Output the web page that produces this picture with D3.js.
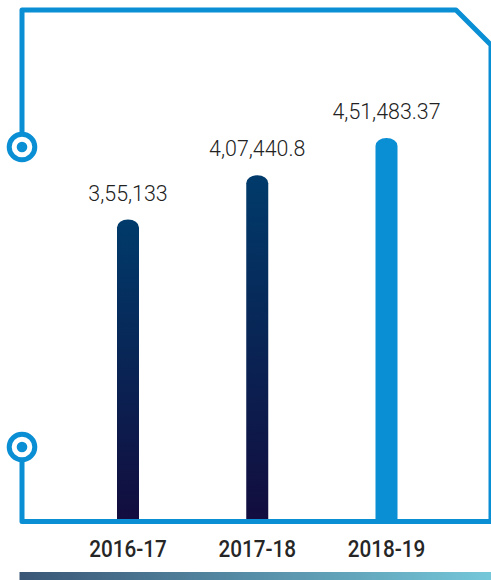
<!DOCTYPE html>
<html lang="en">
<head>
<meta charset="UTF-8">
<title>2016-17 to 2018-19</title>
<script src="https://cdnjs.cloudflare.com/ajax/libs/d3/7.8.5/d3.min.js"></script>
<style>
    html, body { margin: 0; padding: 0; background: #fff; }
    svg { display: block; }
    .value-label { font-family: Roboto, "Noto Sans", sans-serif; font-size: 23px; font-weight: 300; fill: #222; }
    .year-label { font-family: Roboto, "Noto Sans", sans-serif; font-size: 23px; font-weight: 500; fill: #262626; }
</style>
</head>
<body>
<div id="chart"></div>
<script>
    const years = ["2016-17", "2017-18", "2018-19"];
    const values = [355133, 407440.8, 451483.37];
    const valueLabels = ["3,55,133", "4,07,440.8", "4,51,483.37"];
    const highlight = [false, false, true];

    const W = 491, H = 580;
    const blue = "#0a8ed4";
    const baseY = 520;

    const svg = d3.select("#chart").append("svg")
        .attr("width", W)
        .attr("height", H);

    const defs = svg.append("defs");
    const barGrad = defs.append("linearGradient")
        .attr("id", "barGrad")
        .attr("x1", 0).attr("y1", 0).attr("x2", 0).attr("y2", 1);
    barGrad.append("stop").attr("offset", "0%").attr("stop-color", "#003b6b");
    barGrad.append("stop").attr("offset", "100%").attr("stop-color", "#120d3e");

    const footGrad = defs.append("linearGradient")
        .attr("id", "footGrad")
        .attr("x1", 0).attr("y1", 0).attr("x2", 1).attr("y2", 0);
    footGrad.append("stop").attr("offset", "0%").attr("stop-color", "#3a5676");
    footGrad.append("stop").attr("offset", "100%").attr("stop-color", "#74c7d9");

    const x = d3.scalePoint()
        .domain(years)
        .range([128, 386.5]);

    const y = d3.scaleLinear()
        .domain([0, d3.max(values)])
        .range([baseY, 138]);

    const barW = 22;
    const data = years.map((yr, i) => ({ year: yr, value: values[i], label: valueLabels[i], hi: highlight[i] }));

    // bars with rounded tops
    svg.selectAll(".bar")
        .data(data)
        .enter()
        .append("path")
        .attr("class", "bar")
        .attr("d", d => {
            const cx = x(d.year), top = y(d.value);
            const l = cx - barW / 2, r = cx + barW / 2, ry = 8;
            return `M${l},${baseY} L${l},${top + ry} A${barW / 2},${ry} 0 0 1 ${r},${top + ry} L${r},${baseY} Z`;
        })
        .attr("fill", d => d.hi ? blue : "url(#barGrad)");

    svg.selectAll(".value-label")
        .data(data)
        .enter()
        .append("text")
        .attr("class", "value-label")
        .attr("text-anchor", "middle")
        .attr("transform", d => `translate(${x(d.year)},${y(d.value) - 19}) scale(0.93,1)`)
        .text(d => d.label);

    svg.selectAll(".year-label")
        .data(data)
        .enter()
        .append("text")
        .attr("class", "year-label")
        .attr("text-anchor", "middle")
        .attr("transform", d => `translate(${x(d.year)},557) scale(0.9,1)`)
        .text(d => d.year);

    // frame
    const frame = svg.append("g")
        .attr("fill", "none")
        .attr("stroke", blue)
        .attr("stroke-width", 5);

    frame.append("path")
        .attr("stroke-linejoin", "round")
        .attr("d", `M22,134 L22,10 L456,10 L491,45 L491,${baseY + 1.5}`);
    frame.append("path")
        .attr("stroke-linejoin", "round")
        .attr("d", `M22,462 L22,${baseY + 1.5} L${W},${baseY + 1.5}`);

    [147, 447].forEach(cy => {
        frame.append("circle").attr("cx", 22).attr("cy", cy).attr("r", 12.8);
        svg.append("circle").attr("cx", 22).attr("cy", cy).attr("r", 5.3).attr("fill", blue);
    });

    svg.append("rect")
        .attr("x", 19.5)
        .attr("y", 572)
        .attr("width", W - 19.5)
        .attr("height", 8)
        .attr("fill", "url(#footGrad)");
</script>
</body>
</html>
